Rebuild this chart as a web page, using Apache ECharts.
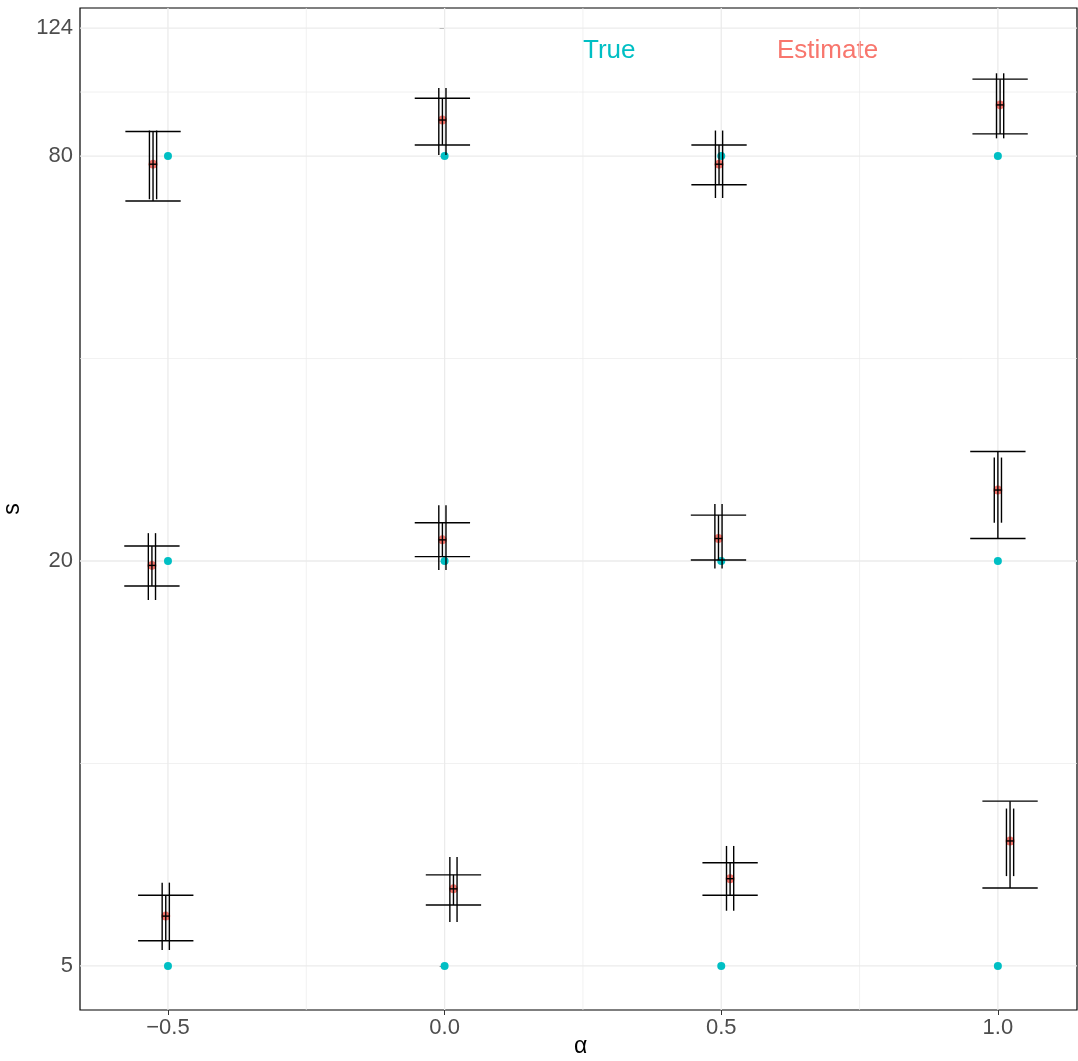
<!DOCTYPE html>
<html>
<head>
<meta charset="utf-8">
<script src="https://cdn.jsdelivr.net/npm/echarts@6/dist/echarts.min.js"></script>
<style>html,body{margin:0;padding:0;background:#fff}#c{width:1078px;height:1061px}</style>
</head>
<body>
<div id="c"></div>
<script>
// true parameter values
const alphas = [-0.5, 0.0, 0.5, 1.0];
const sTrue = [5, 20, 80];
// estimates: one entry per (s, alpha) group
const estX = [-0.504, 0.016, 0.516, 1.022, -0.529, -0.004, 0.495, 1.0, -0.527, -0.004, 0.496, 1.004];
const estY = [5.93, 6.51, 6.74, 7.67, 19.7, 21.5, 21.6, 25.5, 77.8, 90.5, 77.8, 95.3];
const capHi = [6.37, 6.83, 7.12, 8.79, 21.05, 22.8, 23.4, 29.1, 87.0, 97.5, 83.1, 104.1];
const capLo = [5.45, 6.16, 6.37, 6.53, 18.36, 20.3, 20.07, 21.6, 68.6, 83.1, 72.5, 86.3];
const innerHi = [6.65, 7.26, 7.54, 8.57, 22.0, 24.2, 24.3, 28.5, 87.3, 101, 87.3, 106.2];
const innerLo = [5.28, 5.81, 6.04, 6.80, 17.5, 19.4, 19.5, 22.8, 69.0, 80.3, 69.3, 85.0];
// axis ticks
const xTicks = [-0.5, 0.0, 0.5, 1.0];
const xMinor = [-0.25, 0.25, 0.75];
const yTicks = [5, 20, 80, 124];
const yMinor = [10, 40, 99.6];

const xMin = -0.659, xMax = 1.143, yMin = 4.30, yMax = 132.8;

const truePts = [];
sTrue.forEach(s => alphas.forEach(a => truePts.push([a, s])));
const bars = estX.map((x, i) => [x, estY[i], capLo[i], capHi[i], innerLo[i], innerHi[i]]);

const chart = echarts.init(document.getElementById('c'));
const grey = '#ebebeb';

chart.setOption({
  animation: false,
  grid: { left: 80, right: 1, top: 8, bottom: 51, show: true, borderColor: '#000', borderWidth: 1.2, containLabel: false, outerBoundsMode: 'none' },
  xAxis: {
    type: 'value', min: xMin, max: xMax,
    axisLine: { show: false },
    axisTick: { show: true, customValues: xTicks, length: 5, lineStyle: { color: '#333' } },
    axisLabel: { customValues: xTicks, formatter: v => v.toFixed(1).replace('-', '\u2212'), fontSize: 22, color: '#4d4d4d', fontFamily: 'Liberation Sans', margin: 7 },
    splitLine: { show: false }
  },
  yAxis: {
    type: 'log', logBase: 2, min: yMin, max: yMax,
    name: 's', nameLocation: 'middle', nameGap: 56, nameRotate: 90,
    nameTextStyle: { fontSize: 23, color: '#000', fontFamily: 'Liberation Sans' },
    axisLine: { show: false },
    axisTick: { show: true, customValues: yTicks, length: 5, lineStyle: { color: '#333' } },
    axisLabel: { customValues: yTicks, formatter: v => String(Math.round(v)), fontSize: 22, color: '#4d4d4d', fontFamily: 'Liberation Sans', margin: 7 },
    splitLine: { show: false }
  },
  graphic: [
    { type: 'text', left: 583, top: 38, style: { text: 'True', fill: '#00BFC4', fontSize: 26, fontFamily: 'Liberation Sans' } },
    { type: 'text', left: 777, top: 38, style: { text: 'Estimate', fill: '#F8766D', fontSize: 26, fontFamily: 'Liberation Sans' } },
    { type: 'text', left: 574, top: 1035, style: { text: 'α', fill: '#000', fontSize: 23, fontFamily: 'Liberation Sans' } }
  ],
  series: [
    {
      type: 'custom', silent: true, z: 1,
      data: [[0, 10]],
      renderItem: (params, api) => {
        const ch = [];
        const line = (p1, p2, w) => ch.push({ type: 'line', shape: { x1: p1[0], y1: p1[1], x2: p2[0], y2: p2[1] }, style: { stroke: grey, lineWidth: w } });
        yMinor.forEach(v => line(api.coord([xMin, v]), api.coord([xMax, v]), 0.7));
        xMinor.forEach(v => line(api.coord([v, yMin]), api.coord([v, yMax]), 0.7));
        yTicks.forEach(v => line(api.coord([xMin, v]), api.coord([xMax, v]), 1.3));
        xTicks.forEach(v => line(api.coord([v, yMin]), api.coord([v, yMax]), 1.3));
        return { type: 'group', children: ch };
      }
    },
    {
      type: 'scatter', data: truePts, symbolSize: 8, z: 2,
      itemStyle: { color: '#00BFC4', opacity: 1 }
    },
    {
      type: 'custom', z: 3,
      data: bars,
      renderItem: (params, api) => {
        const x = api.value(0), y = api.value(1);
        const c = api.coord([x, y]);
        const lo = api.coord([x, api.value(2)]), hi = api.coord([x, api.value(3)]);
        const ilo = api.value(4), ihi = api.value(5);
        const capW = api.size([0.1, 0])[0] / 2;
        const off = api.size([0.0065, 0])[0];
        const ln = (x1, y1, x2, y2) => ({ type: 'line', shape: { x1, y1, x2, y2 }, style: { stroke: '#000', lineWidth: 1.4 } });
        const iL = api.coord([x, ilo])[1], iH = api.coord([x, ihi])[1];
        return {
          type: 'group', children: [
            { type: 'circle', shape: { cx: c[0], cy: c[1], r: 4.5 }, style: { fill: '#F8766D' } },
            ln(c[0] - capW, lo[1], c[0] + capW, lo[1]),
            ln(c[0] - capW, hi[1], c[0] + capW, hi[1]),
            ln(c[0], lo[1], c[0], hi[1]),
            ln(c[0] - off, iL, c[0] - off, iH),
            ln(c[0] + off, iL, c[0] + off, iH),
            ln(c[0] - off, c[1], c[0] + off, c[1])
          ]
        };
      }
    }
  ]
});
</script>
</body>
</html>
